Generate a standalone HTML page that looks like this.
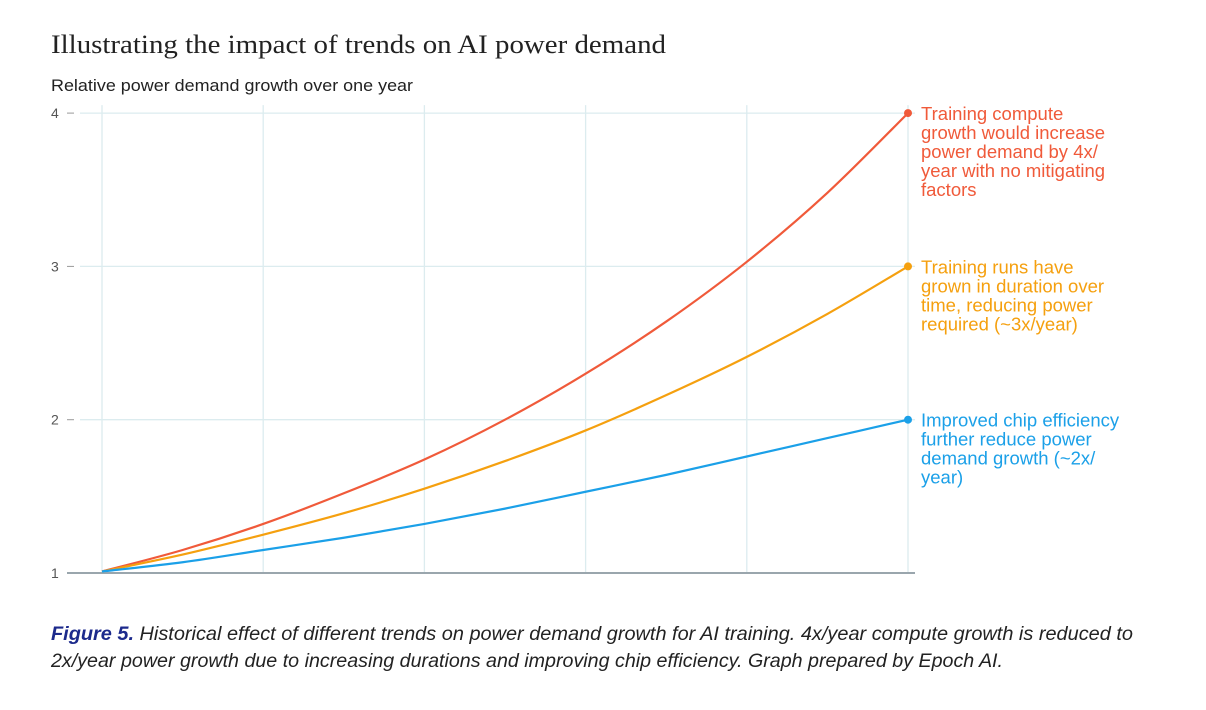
<!DOCTYPE html>
<html><head><meta charset="utf-8">
<style>
html,body{margin:0;padding:0;background:#fff;}
svg{display:block;}
</style></head>
<body>
<svg id="chart" width="1206" height="710" xmlns="http://www.w3.org/2000/svg">
<text x="51" y="53" font-family="'Liberation Serif',serif" font-size="26" fill="#222" textLength="615" lengthAdjust="spacingAndGlyphs">Illustrating the impact of trends on AI power demand</text>
<text x="51" y="91" font-family="'Liberation Sans',sans-serif" font-size="16.5" fill="#222" textLength="362" lengthAdjust="spacingAndGlyphs">Relative power demand growth over one year</text>
<g id="grid"></g>
<g id="axis"></g>
<g id="series"></g>
<g id="labels"></g>
<text y="640" font-family="'Liberation Sans',sans-serif" font-size="19" font-style="italic" fill="#222" textLength="1082" lengthAdjust="spacingAndGlyphs" x="51"><tspan font-weight="bold" fill="#1c2a8c">Figure 5.</tspan> Historical effect of different trends on power demand growth for AI training. 4x/year compute growth is reduced to</text>
<text x="51" y="667" font-family="'Liberation Sans',sans-serif" font-size="19" font-style="italic" fill="#222" textLength="952" lengthAdjust="spacingAndGlyphs">2x/year power growth due to increasing durations and improving chip efficiency. Graph prepared by Epoch AI.</text>
</svg>
<script>
const xTicks = [0, 0.2, 0.4, 0.6, 0.8, 1];
const yTicks = [1, 2, 3, 4];
const tPoints = [0, 0.1, 0.2, 0.3, 0.4, 0.5, 0.6, 0.7, 0.8, 0.9, 1];
const computeSeries = [1.01, 1.15, 1.32, 1.52, 1.74, 2.0, 2.3, 2.64, 3.03, 3.48, 4.0];
const durationSeries = [1.01, 1.12, 1.25, 1.39, 1.55, 1.73, 1.93, 2.16, 2.41, 2.69, 3.0];
const efficiencySeries = [1.01, 1.07, 1.15, 1.23, 1.32, 1.42, 1.53, 1.64, 1.76, 1.88, 2.0];
const seriesNames = ['compute-growth', 'duration-growth', 'efficiency-growth'];
const seriesColors = ['#f05a3a', '#f5a00f', '#1ba0e8'];
const seriesLabels = [
  ['Training compute', 'growth would increase', 'power demand by 4x/', 'year with no mitigating', 'factors'],
  ['Training runs have', 'grown in duration over', 'time, reducing power', 'required (~3x/year)'],
  ['Improved chip efficiency', 'further reduce power', 'demand growth (~2x/', 'year)']
];
const NS = 'http://www.w3.org/2000/svg';
const X = t => 102 + t * 806;
const Y = v => 573 - (v - 1) * 153.3;
function mk(tag, attrs, parent) {
  const e = document.createElementNS(NS, tag);
  for (const k in attrs) e.setAttribute(k, attrs[k]);
  parent.appendChild(e);
  return e;
}
const grid = document.getElementById('grid');
const axis = document.getElementById('axis');
xTicks.forEach(t => {
  const l = mk('line', {x1: X(t), x2: X(t), y1: Y(4) - 8, y2: Y(1), stroke: '#dcecef', 'stroke-width': 1.3}, grid);
  
  
});
yTicks.forEach(v => {
  if (v > 1) {
    const g = mk('line', {x1: 80, x2: 915, y1: Y(v), y2: Y(v), stroke: '#dcecef', 'stroke-width': 1.3}, grid);
    
    
    const tk = mk('line', {x1: 67, x2: 74, y1: Y(v), y2: Y(v), stroke: '#999', 'stroke-width': 1}, axis);
    
    
  }
  const tx = mk('text', {x: 51, y: Y(v) + 5, 'font-family': "'Liberation Sans',sans-serif", 'font-size': 14, fill: '#555'}, axis);
  tx.textContent = v;
  
  
});
const base = mk('line', {x1: 67, x2: 915, y1: Y(1), y2: Y(1), stroke: '#9aa6ad', 'stroke-width': 2}, axis);



const seriesData = [computeSeries, durationSeries, efficiencySeries];
const sg = document.getElementById('series');
const lg = document.getElementById('labels');
function smoothPath(pts) {
  let d = 'M' + pts[0][0] + ',' + pts[0][1];
  for (let i = 0; i < pts.length - 1; i++) {
    const p0 = pts[Math.max(0, i - 1)], p1 = pts[i], p2 = pts[i + 1], p3 = pts[Math.min(pts.length - 1, i + 2)];
    const c1x = p1[0] + (p2[0] - p0[0]) / 6, c1y = p1[1] + (p2[1] - p0[1]) / 6;
    const c2x = p2[0] - (p3[0] - p1[0]) / 6, c2y = p2[1] - (p3[1] - p1[1]) / 6;
    d += ' C' + c1x + ',' + c1y + ' ' + c2x + ',' + c2y + ' ' + p2[0] + ',' + p2[1];
  }
  return d;
}
seriesData.forEach((vals, si) => {
  const pts = vals.map((v, i) => [X(tPoints[i]), Y(v)]);
  const p = mk('path', {d: smoothPath(pts), fill: 'none', stroke: seriesColors[si], 'stroke-width': 2.2}, sg);
  
  
  const last = pts[pts.length - 1];
  const c = mk('circle', {cx: last[0], cy: last[1], r: 4, fill: seriesColors[si]}, sg);
  
  
  const t = mk('text', {x: 921, y: last[1] + 7, 'font-family': "'Liberation Sans',sans-serif", 'font-size': 18.5, fill: seriesColors[si]}, lg);
  
  
  seriesLabels[si].forEach((line, li) => {
    const ts = mk('tspan', {x: 921, dy: li === 0 ? 0 : 19}, t);
    ts.textContent = line;
  });
});
</script>
</body></html>
